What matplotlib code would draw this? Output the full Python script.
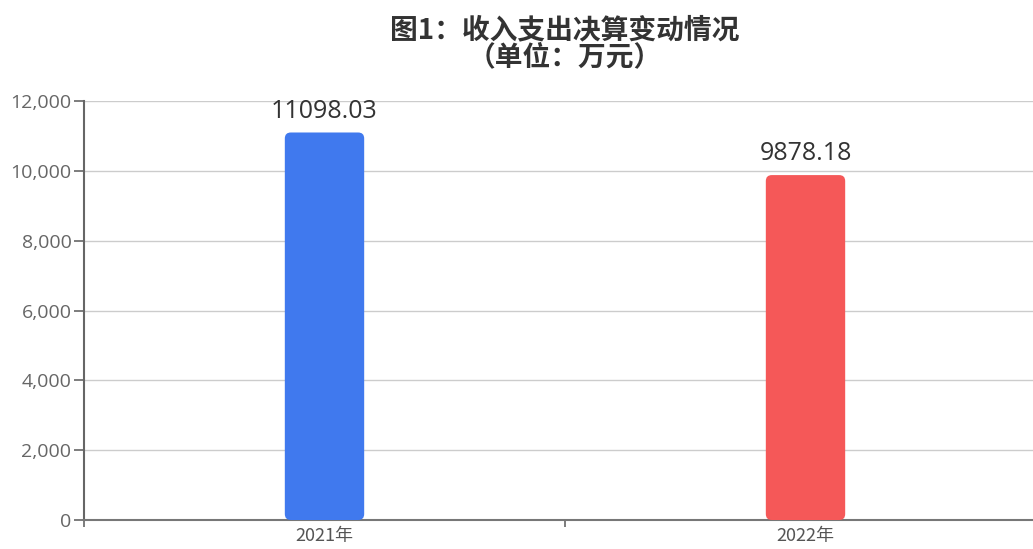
import matplotlib
matplotlib.use("Agg")
import matplotlib.pyplot as plt
from matplotlib.patches import FancyBboxPatch
from matplotlib.ticker import FuncFormatter, MultipleLocator

plt.rcParams['font.family'] = ['Open Sans', 'Noto Sans CJK SC', 'DejaVu Sans']

years = ["2021年", "2022年"]
values = [11098.03, 9878.18]
bar_colors = ["#4079EE", "#F55858"]
title = "图1：收入支出决算变动情况\n（单位：万元）"

fig = plt.figure(figsize=(10.33, 5.49), dpi=100)
# axes extends a bit past the right edge, like the screenshot
ax = fig.add_axes([84 / 1033, 29 / 549, 962 / 1033, 419 / 549])

bar_w = 0.165
px_x = 1 / 481
px_y = 12000 / 419
for i, (v, c) in enumerate(zip(values, bar_colors)):
    patch = FancyBboxPatch((i - bar_w / 2, 0), bar_w, v,
                           boxstyle="round,pad=0,rounding_size=%f" % (6 * px_x),
                           mutation_aspect=px_y / px_x,
                           facecolor=c, edgecolor="none", zorder=3)
    ax.add_patch(patch)
    ax.text(i, v + 250, f"{v:.2f}", ha="center", va="bottom",
            fontsize=18, color="#333333", zorder=4)

ax.set_xlim(-0.5, 1.5)
ax.set_ylim(0, 12000)
ax.yaxis.set_major_locator(MultipleLocator(2000))
ax.yaxis.set_major_formatter(FuncFormatter(lambda v, p: f"{int(v):,}"))
ax.set_xticks([0, 1])
ax.set_xticklabels(years, family=['Noto Sans CJK SC', 'DejaVu Sans'])
ax.set_xticks([-0.5, 0.5, 1.5], minor=True)
ax.tick_params(axis="x", which="major", length=0, pad=5, labelsize=13, labelcolor="#555555")
ax.tick_params(axis="x", which="minor", length=5, width=1.2, color="#666666")
ax.tick_params(axis="y", length=7, width=1.2, color="#666666", labelsize=14, labelcolor="#666666", pad=2)

ax.grid(axis="y", color="#cccccc", linewidth=1, zorder=0)
for s in ["top", "right"]:
    ax.spines[s].set_visible(False)
ax.spines["left"].set_color("#666666")
ax.spines["left"].set_linewidth(1.5)
ax.spines["bottom"].set_color("#777777")
ax.spines["bottom"].set_linewidth(1.5)

fig.text(565 / 1033, 1 - 44 / 549, title, ha="center", va="center",
         fontsize=20, fontweight="bold", color="#333333", linespacing=0.95,
         family=['Noto Sans CJK SC', 'DejaVu Sans'])

fig.savefig("out.png", dpi=100)
